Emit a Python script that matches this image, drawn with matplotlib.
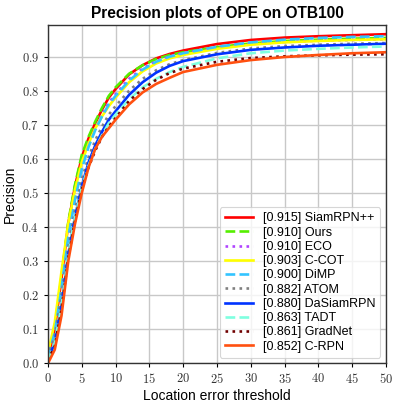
import numpy as np
import matplotlib
matplotlib.use('Agg')
import matplotlib.pyplot as plt
from matplotlib.ticker import FuncFormatter

plt.rcParams['mathtext.fontset'] = 'cm'
plt.rcParams['font.family'] = ['Liberation Sans', 'DejaVu Sans']

# location error thresholds
thr = [0, 1, 2, 3, 4, 5, 6, 7, 8, 9, 10, 12, 14, 16, 18, 20, 25, 30, 35, 40, 45, 50]

siamrpnpp = [0.02, 0.10, 0.25, 0.41, 0.52, 0.605, 0.66, 0.705, 0.745, 0.78, 0.805, 0.848, 0.875, 0.895, 0.908, 0.918, 0.937, 0.949, 0.956, 0.960, 0.963, 0.966]
ours      = [0.02, 0.105, 0.255, 0.415, 0.525, 0.612, 0.665, 0.71, 0.75, 0.785, 0.81, 0.85, 0.875, 0.893, 0.905, 0.913, 0.928, 0.939, 0.946, 0.950, 0.953, 0.955]
eco       = [0.02, 0.09, 0.23, 0.39, 0.50, 0.585, 0.645, 0.69, 0.73, 0.765, 0.79, 0.835, 0.865, 0.887, 0.90, 0.91, 0.926, 0.937, 0.943, 0.947, 0.949, 0.951]
ccot      = [0.03, 0.12, 0.27, 0.41, 0.51, 0.59, 0.645, 0.69, 0.725, 0.755, 0.78, 0.825, 0.857, 0.88, 0.895, 0.905, 0.923, 0.935, 0.942, 0.946, 0.949, 0.951]
dimp      = [0.02, 0.09, 0.22, 0.37, 0.48, 0.57, 0.635, 0.685, 0.725, 0.76, 0.785, 0.83, 0.862, 0.885, 0.90, 0.91, 0.929, 0.942, 0.95, 0.955, 0.958, 0.96]
atom      = [0.02, 0.08, 0.20, 0.34, 0.45, 0.54, 0.605, 0.655, 0.695, 0.73, 0.755, 0.80, 0.835, 0.86, 0.878, 0.89, 0.911, 0.924, 0.931, 0.935, 0.938, 0.94]
dasiam    = [0.01, 0.06, 0.17, 0.32, 0.43, 0.52, 0.59, 0.64, 0.68, 0.715, 0.74, 0.788, 0.825, 0.853, 0.873, 0.887, 0.907, 0.92, 0.927, 0.932, 0.935, 0.938]
tadt      = [0.01, 0.06, 0.17, 0.32, 0.43, 0.515, 0.58, 0.63, 0.67, 0.705, 0.73, 0.775, 0.81, 0.835, 0.855, 0.87, 0.895, 0.91, 0.918, 0.923, 0.927, 0.93]
gradnet   = [0.01, 0.05, 0.16, 0.31, 0.42, 0.51, 0.575, 0.625, 0.665, 0.695, 0.72, 0.77, 0.805, 0.832, 0.852, 0.865, 0.885, 0.896, 0.901, 0.904, 0.906, 0.907]
crpn      = [0.0, 0.04, 0.14, 0.30, 0.41, 0.50, 0.575, 0.63, 0.665, 0.69, 0.715, 0.76, 0.795, 0.82, 0.838, 0.855, 0.876, 0.89, 0.899, 0.905, 0.91, 0.913]

names = ['SiamRPN++', 'Ours', 'ECO', 'C-COT', 'DiMP', 'ATOM', 'DaSiamRPN', 'TADT', 'GradNet', 'C-RPN']
scores = [0.915, 0.910, 0.910, 0.903, 0.900, 0.882, 0.880, 0.863, 0.861, 0.852]
curves = [siamrpnpp, ours, eco, ccot, dimp, atom, dasiam, tadt, gradnet, crpn]
colors = ['#ff0000', '#55ee00', '#b044ff', '#ffff00', '#33c4ff', '#808080', '#0033ff', '#7fffe0', '#700000', '#ff5010']
styles = ['-', '--', ':', '-', '--', ':', '-', '--', ':', '-']

fig = plt.figure(figsize=(3.99, 4.03), dpi=100)
ax = fig.add_axes([0.1203, 0.0985, 0.847, 0.8395])

for c, n, s, col, ls in zip(curves, names, scores, colors, styles):
    ax.plot(thr, c, color=col, linestyle=ls, linewidth=1.9, label='[%.3f] %s' % (s, n))

ax.set_xlim(0, 50)
ax.set_ylim(0, 0.993)
ax.set_xticks(np.arange(0, 51, 5))
ax.set_yticks(np.arange(0, 0.95, 0.1))
ax.xaxis.set_major_formatter(FuncFormatter(lambda v, p: '$%d$' % v))
ax.yaxis.set_major_formatter(FuncFormatter(lambda v, p: '$%.1f$' % v))
ax.tick_params(labelsize=9, length=3, width=0.8, labelcolor='#333333')
ax.grid(True, color='#c8c8c8', linewidth=1.0)
ax.set_axisbelow(True)
for sp in ax.spines.values():
    sp.set_linewidth(1.0)
    sp.set_color('#333333')

ax.set_xlabel('Location error threshold', fontsize=10, labelpad=2)
ax.set_ylabel('Precision', fontsize=10, labelpad=3)
ax.set_title('Precision plots of OPE on OTB100', fontsize=11.2, fontweight='bold', pad=5)

leg = ax.legend(loc='lower right', fontsize=9, handlelength=2.3, labelspacing=0.18,
                borderpad=0.4, handletextpad=0.75, fancybox=True, framealpha=0.8,
                borderaxespad=0.45)
leg.get_frame().set_linewidth(0.8)

fig.savefig('out.png', dpi=100)
